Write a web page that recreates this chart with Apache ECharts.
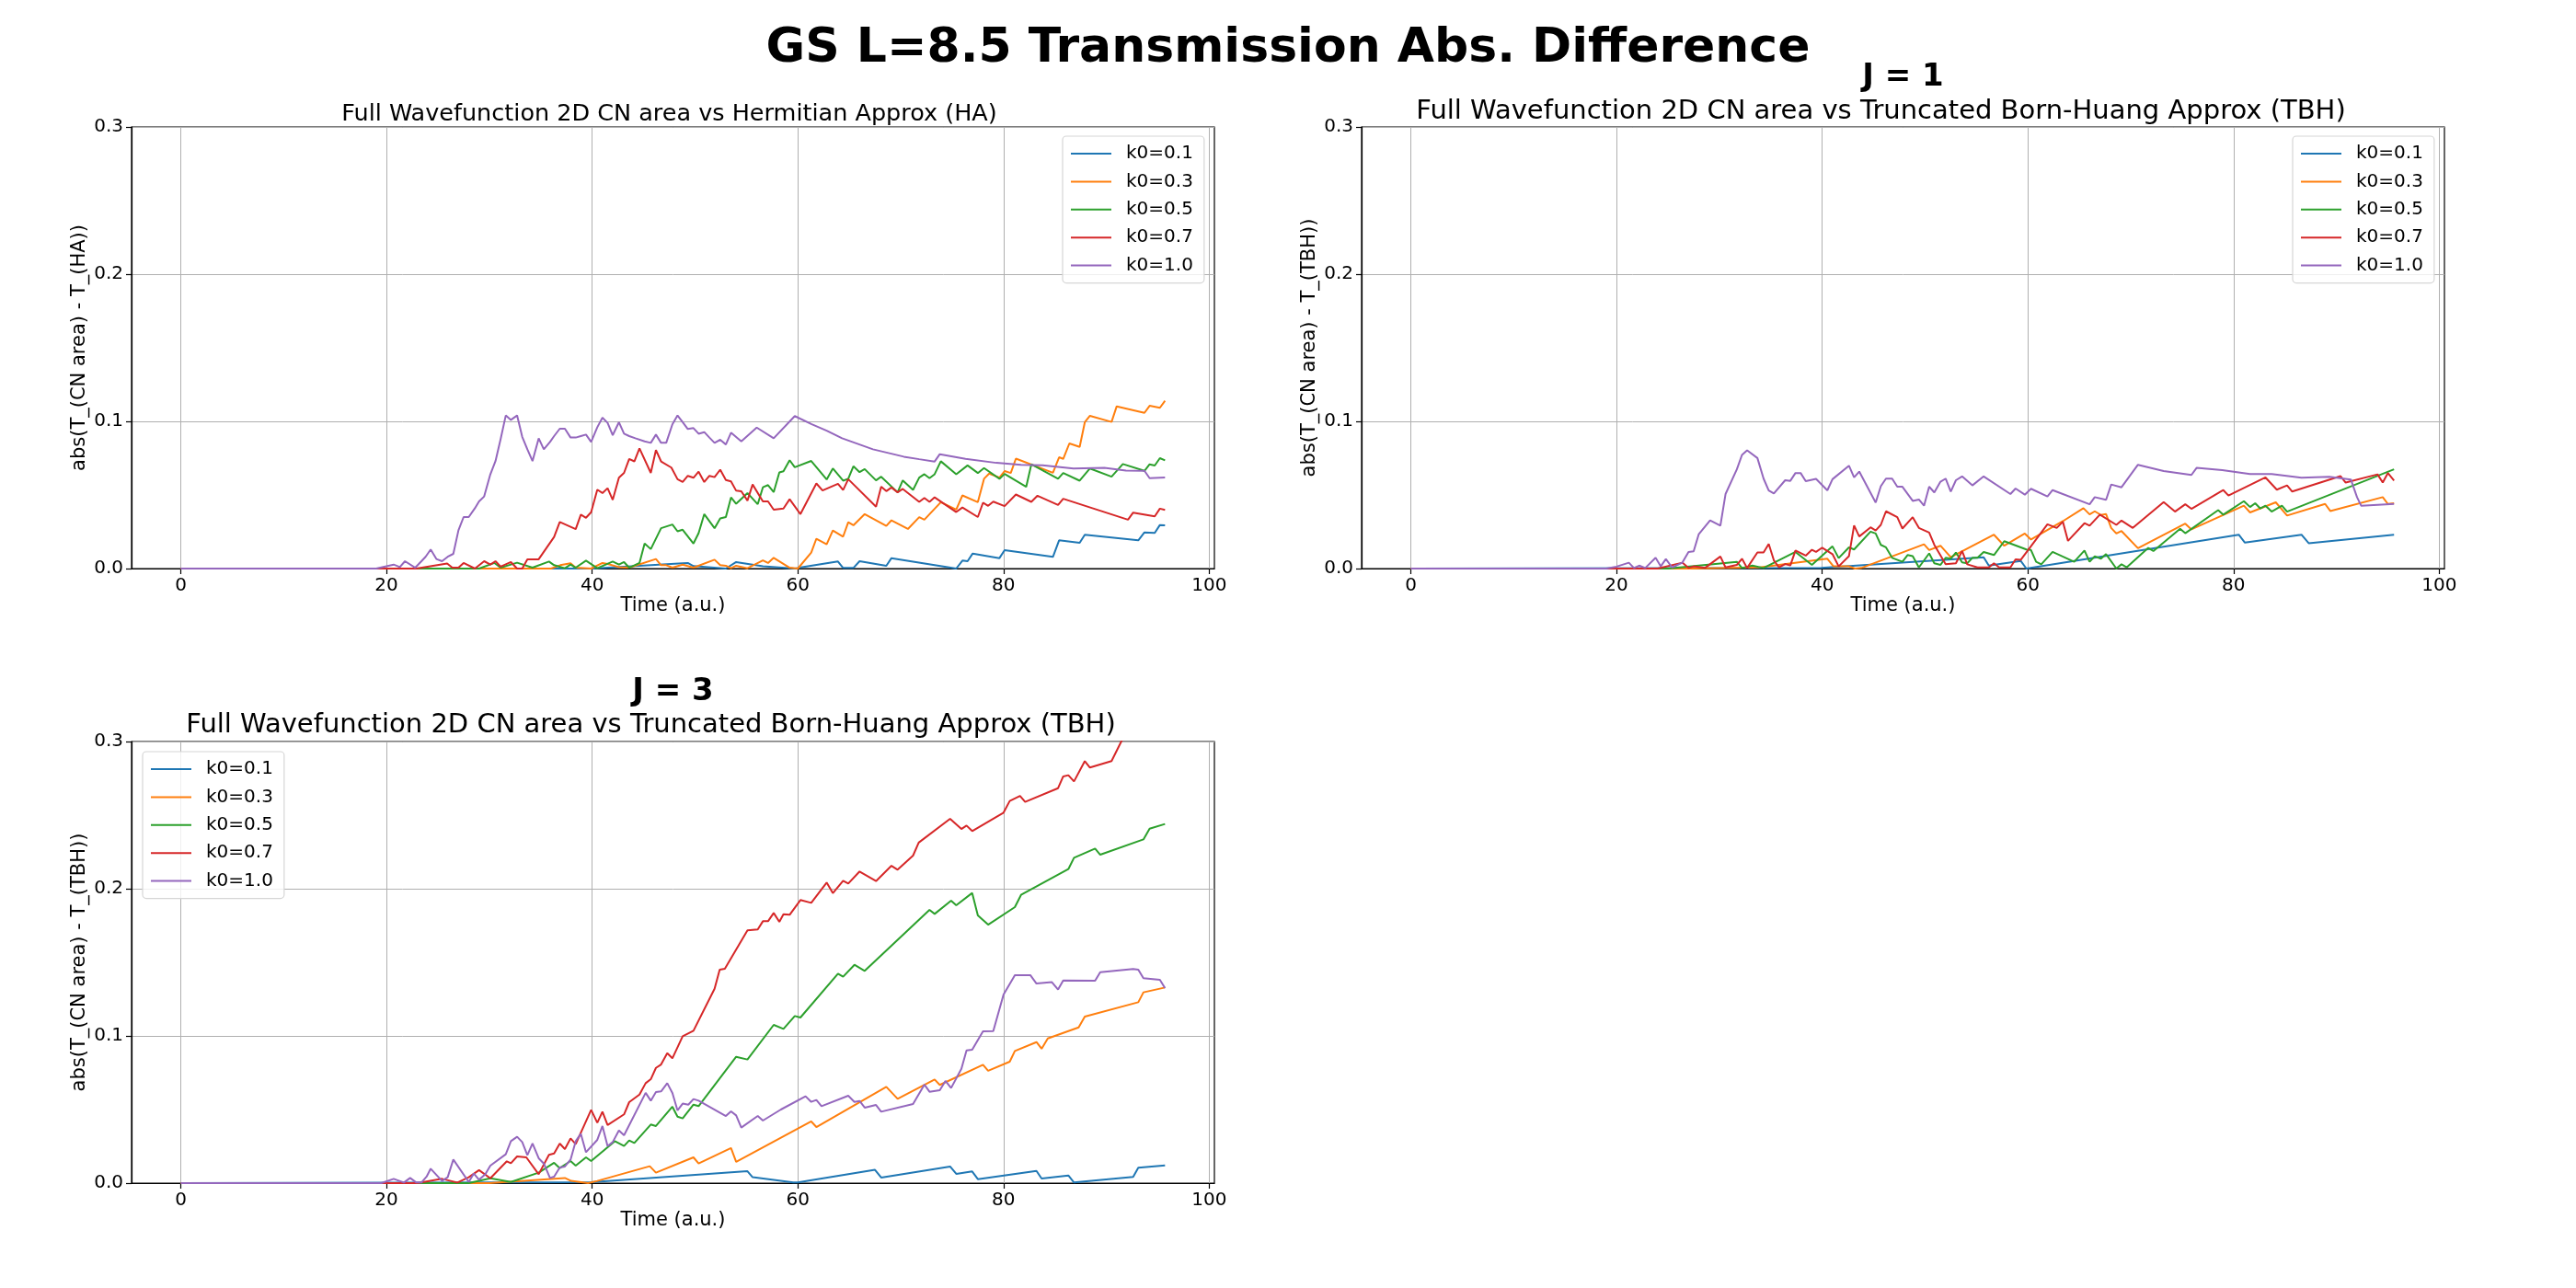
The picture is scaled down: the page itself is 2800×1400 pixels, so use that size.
<!DOCTYPE html>
<html>
<head>
<meta charset="utf-8">
<title>GS L=8.5 Transmission Abs. Difference</title>
<script src="https://cdn.jsdelivr.net/npm/echarts@6/dist/echarts.min.js"></script>
<style>
  html, body { margin: 0; padding: 0; background: #ffffff; }
  #chart { width: 2800px; height: 1400px; }
</style>
</head>
<body>
<div id="chart"></div>
<script>
/* ===================================================================
   GS L=8.5 transmission differences, three panels (HA, TBH J=1, TBH J=3)
   =================================================================== */

const SUPTITLE = "GS L=8.5 Transmission Abs. Difference";
const PANEL_TITLES = [
  "Full Wavefunction 2D CN area vs Hermitian Approx (HA)",
  "Full Wavefunction 2D CN area vs Truncated Born-Huang Approx (TBH)",
  "Full Wavefunction 2D CN area vs Truncated Born-Huang Approx (TBH)"
];
const PANEL_TAGS = ["", "J = 1", "J = 3"];
const Y_NAMES = [
  "abs(T_(CN area) - T_(HA))",
  "abs(T_(CN area) - T_(TBH))",
  "abs(T_(CN area) - T_(TBH))"
];
const X_NAME = "Time (a.u.)";
const K0_LABELS = ["k0=0.1", "k0=0.3", "k0=0.5", "k0=0.7", "k0=1.0"];
const X_TICKS = [0, 20, 40, 60, 80, 100];

// ---- Hermitian approx panel: [time, abs diff] ----
const ha_k01 = [[0,0],[40,0],[48.8,0.0036],[49.3,0.0038],[49.85,0.0017],[53,0],[54,0.0044],[56.6,0.0015],[59.7,0],[60,0.0004],[63.9,0.0048],[64.4,0.0004],[65.4,0.0004],[66,0.005],[68.6,0.0019],[69.1,0.0071],[75.4,0],[76,0.0054],[76.5,0.005],[77,0.0102],[79.6,0.0071],[80.1,0.0125],[84.8,0.0079],[85.4,0.0192],[87.4,0.0175],[87.9,0.023],[93.1,0.0192],[93.7,0.0246],[94.7,0.0242],[95.2,0.0296],[95.7,0.0294]];
const ha_k03 = [[0,0],[36,0],[36.9,0.0023],[37.9,0.0036],[38.4,0.0006],[39.9,0],[41,0.0038],[41.5,0.0031],[42.6,0.001],[43.6,0.0006],[46.2,0.0065],[46.7,0.0023],[47.2,0.0023],[47.8,0.0006],[48.8,0.0027],[49.85,0.0006],[51.9,0.006],[52.45,0.0023],[53,0.0019],[53.5,0.0002],[54,0.0019],[55.1,0.0002],[56.6,0.0056],[57.1,0.0038],[57.65,0.0073],[59.2,0.0006],[60,0],[61.3,0.0109],[61.8,0.0203],[62.8,0.0165],[63.4,0.0259],[64.4,0.0217],[64.9,0.0315],[65.4,0.0294],[66.5,0.037],[68.6,0.029],[69.1,0.0328],[70.7,0.0269],[71.8,0.0349],[72.3,0.0332],[73.9,0.0451],[75.4,0.0401],[76,0.0497],[77.5,0.0451],[78.1,0.061],[78.6,0.0645],[79.6,0.0618],[80.1,0.0662],[80.7,0.0649],[81.2,0.0747],[84.8,0.0651],[85.4,0.0756],[85.8,0.0745],[86.4,0.085],[87.4,0.0827],[87.9,0.0994],[88.4,0.1038],[90.5,0.0996],[91,0.1102],[93.7,0.1058],[94.2,0.1106],[95.2,0.1092],[95.7,0.114]];
const ha_k05 = [[0,0],[29,0],[30.5,0.0038],[31.1,0.0006],[32.7,0.004],[34.2,0.0006],[35.8,0.0048],[36.3,0.0023],[37.35,0.0002],[37.9,0.0027],[38.4,0.0006],[39.4,0.0054],[40.5,0.0002],[42,0.0048],[42.6,0.0027],[43.1,0.0044],[43.6,0.0006],[44.6,0.0038],[45.1,0.017],[45.7,0.0132],[46.7,0.0274],[47.8,0.0299],[48.3,0.0253],[48.8,0.0264],[49.85,0.017],[50.35,0.0241],[50.9,0.037],[51.9,0.0274],[52.45,0.0341],[53,0.035],[53.5,0.0483],[54,0.044],[55.1,0.0513],[56.1,0.0437],[56.6,0.0552],[57.1,0.0567],[57.65,0.0519],[58.2,0.0653],[58.6,0.0661],[59.2,0.0736],[59.7,0.0688],[61.3,0.0731],[62.8,0.0605],[63.4,0.068],[64.4,0.0597],[64.9,0.061],[65.4,0.0695],[66,0.0655],[66.5,0.0676],[67.6,0.0599],[68.1,0.0624],[69.7,0.0518],[70.2,0.0599],[71.2,0.0534],[71.8,0.0618],[72.3,0.0641],[72.8,0.0614],[73.3,0.0641],[73.9,0.0729],[75.4,0.0641],[76.5,0.0701],[77.5,0.0649],[78.1,0.0683],[79.6,0.061],[80.1,0.0643],[82.2,0.0555],[82.7,0.0708],[85.3,0.061],[85.8,0.0649],[87.4,0.0597],[88.4,0.068],[90.5,0.0624],[91.6,0.071],[93.7,0.0664],[94.2,0.0708],[94.7,0.07],[95.2,0.075],[95.7,0.0735]];
const ha_k07 = [[0,0],[22.9,0],[25.9,0.0035],[26.4,0.0006],[27,0.0006],[27.5,0.0038],[28.6,0],[29.5,0.005],[30.1,0.0027],[30.6,0.005],[31.1,0.0013],[32.1,0.0044],[32.7,0],[33.2,0],[33.7,0.0063],[34.8,0.0063],[36.3,0.0215],[36.85,0.0316],[38.4,0.0268],[38.9,0.0366],[39.4,0.0345],[39.9,0.0383],[40.5,0.0536],[41,0.0513],[41.5,0.0546],[42,0.0467],[42.6,0.0617],[43.1,0.065],[43.6,0.0745],[44.1,0.0728],[44.6,0.0816],[45.7,0.065],[46.2,0.0805],[46.7,0.0728],[47.7,0.0686],[48.3,0.0607],[48.8,0.0588],[49.3,0.063],[49.85,0.0617],[50.35,0.0658],[50.9,0.0588],[51.4,0.063],[51.9,0.0621],[52.45,0.0672],[53,0.0602],[53.5,0.0592],[54,0.0529],[54.5,0.0525],[55.1,0.0462],[55.6,0.0571],[56.6,0.0456],[57.1,0.0456],[57.65,0.04],[58.6,0.0408],[59.2,0.0471],[60.25,0.037],[61.8,0.0578],[62.4,0.053],[63.9,0.0576],[64.4,0.0534],[64.9,0.0607],[67.6,0.042],[68.1,0.0557],[68.6,0.0526],[69.1,0.0551],[69.7,0.0518],[70.2,0.0541],[71.8,0.0453],[72.3,0.048],[72.8,0.0453],[73.3,0.0484],[75.4,0.0384],[76,0.0415],[77.5,0.035],[78,0.0447],[78.5,0.0426],[79,0.0455],[80.1,0.0424],[81.2,0.0503],[82.7,0.0453],[83.3,0.0495],[85.3,0.0432],[85.8,0.0474],[92.1,0.0332],[92.6,0.038],[94.7,0.0355],[95.2,0.0407],[95.7,0.0399]];
const ha_k10 = [[0,0],[19,0],[20.7,0.0027],[21.3,0.001],[21.8,0.005],[22.8,0.0006],[23.4,0.005],[23.8,0.008],[24.3,0.013],[24.85,0.0065],[25.4,0.005],[25.95,0.008],[26.5,0.01],[27,0.026],[27.5,0.035],[28,0.035],[28.6,0.041],[29,0.0456],[29.5,0.049],[30.1,0.064],[30.6,0.073],[31.1,0.088],[31.6,0.104],[32.1,0.101],[32.7,0.104],[33.2,0.0895],[33.7,0.081],[34.2,0.073],[34.8,0.0885],[35.3,0.081],[35.9,0.086],[36.3,0.09],[36.85,0.095],[37.35,0.095],[37.9,0.089],[38.4,0.089],[38.9,0.09],[39.4,0.091],[39.9,0.086],[40.5,0.096],[41,0.1025],[41.5,0.099],[42,0.0906],[42.6,0.0994],[43.1,0.0916],[43.6,0.09],[44.2,0.0885],[45.1,0.0864],[45.7,0.0854],[46.2,0.091],[46.7,0.0854],[47.2,0.0854],[47.8,0.098],[48.3,0.104],[48.8,0.0994],[49.3,0.0948],[49.85,0.0954],[50.35,0.0916],[50.9,0.0927],[51.4,0.089],[51.9,0.0854],[52.45,0.0875],[53,0.0843],[53.5,0.0923],[54.5,0.0864],[56,0.0958],[57.65,0.0885],[59.7,0.1036],[61.35,0.098],[62.8,0.0937],[64.3,0.0885],[65.8,0.0848],[67.3,0.081],[68.8,0.0785],[70.3,0.076],[71.8,0.0743],[73.3,0.0727],[73.8,0.0777],[76.3,0.0745],[79.3,0.0718],[81.7,0.0704],[83.8,0.0701],[86.8,0.068],[89.8,0.0685],[91.9,0.0666],[93.7,0.0664],[94.2,0.0614],[95.7,0.0618]];

// ---- Truncated Born-Huang, J = 1 ----
const j1_k01 = [[0,0],[39.9,0.0004],[55.7,0.0077],[56.2,0.002],[59.3,0.0052],[59.85,0],[80.5,0.023],[81.1,0.0176],[86.6,0.023],[87.3,0.0172],[95.6,0.023]];
const j1_k03 = [[0,0],[27,0],[33.9,0.0008],[40.5,0.0067],[41.1,0.0015],[42.6,0.0015],[43.2,0],[43.8,0.0004],[49.9,0.0165],[50.4,0.0126],[51.5,0.0155],[52.5,0.0077],[56.7,0.023],[57.7,0.0155],[59.7,0.0238],[60.3,0.0197],[63.4,0.0322],[65.4,0.041],[66,0.0368],[66.5,0.0389],[67.1,0.0364],[67.6,0.037],[68.1,0.0276],[68.6,0.0238],[69.1,0.0255],[70.7,0.0138],[75.3,0.0305],[75.9,0.0266],[81,0.0427],[81.6,0.0381],[84.1,0.045],[85.2,0.036],[88.9,0.0439],[89.4,0.0391],[94.5,0.0485],[95,0.0439],[95.6,0.0444]];
const j1_k05 = [[0,0],[25,0],[31.7,0.0046],[32.2,0.0004],[33.2,0.002],[34.3,0.0004],[37.4,0.0113],[39,0.0025],[41,0.0151],[41.6,0.0071],[42.6,0.0144],[43.1,0.013],[44.7,0.0251],[45.2,0.0238],[45.7,0.0161],[46.2,0.0144],[46.8,0.0073],[47.8,0.0046],[48.3,0.0092],[48.8,0.0084],[49.4,0.0008],[50.4,0.0103],[50.9,0.0036],[51.5,0.0025],[52,0.0073],[52.5,0.0067],[53,0.0109],[53.6,0.0042],[54.1,0.0036],[54.6,0.0073],[55.1,0.0073],[55.7,0.0113],[56.7,0.0092],[57.7,0.0186],[59.85,0.013],[60.3,0.0126],[60.8,0.0046],[61.3,0.0029],[62.4,0.0113],[64.5,0.0046],[65.5,0.0123],[66,0.0046],[66.5,0.0084],[67.1,0.0067],[67.6,0.0098],[68.6,0],[69.1,0.0029],[69.6,0.0008],[71.7,0.014],[72.2,0.0119],[74.8,0.027],[75.3,0.024],[78.5,0.0397],[79,0.0366],[81,0.0458],[81.6,0.0418],[82.1,0.0444],[82.6,0.0408],[83.1,0.0427],[83.7,0.0387],[84.7,0.0427],[85.2,0.0387],[95.6,0.0674]];
const j1_k07 = [[0,0],[24,0],[26.4,0.004],[27,0.0004],[27.5,0.0015],[28.6,0.0004],[30.1,0.0082],[30.6,0.0008],[31.7,0.0025],[32.2,0.0067],[32.7,0.0004],[33.7,0.0109],[34.3,0.0109],[34.8,0.0167],[35.3,0.0056],[35.8,0.0008],[36.4,0.0031],[36.9,0.0021],[37.4,0.0123],[38.4,0.0088],[39,0.0128],[39.4,0.0113],[40,0.0142],[41,0.0098],[41.6,0.0015],[42.6,0.0084],[43.1,0.0293],[43.6,0.0218],[44.7,0.028],[45.2,0.0259],[45.7,0.0297],[46.2,0.0389],[47.3,0.0349],[47.8,0.0272],[48.8,0.0349],[49.4,0.0276],[50.4,0.0245],[50.9,0.0161],[52,0.0029],[53,0.0036],[53.6,0.0119],[54.1,0.0029],[55.1,0.0008],[56.2,0.0008],[56.7,0.0036],[57.2,0.0008],[58.3,0.0008],[58.8,0.0063],[59.3,0.0059],[61.9,0.0301],[62.8,0.0276],[63.4,0.0318],[63.9,0.0188],[65.5,0.0308],[66,0.0291],[67,0.0366],[68.6,0.0297],[69.1,0.0326],[70.2,0.0276],[73.2,0.0452],[74.3,0.0387],[75.3,0.0437],[75.9,0.0406],[79,0.0533],[79.5,0.0496],[83.1,0.0619],[84.2,0.0536],[85.2,0.0565],[85.7,0.0523],[90.4,0.0628],[90.9,0.0584],[94,0.064],[94.5,0.0584],[95,0.0649],[95.6,0.0598]];
const j1_k10 = [[0,0],[19,0],[20,0.0013],[21.2,0.004],[21.7,0.0004],[22.2,0.002],[22.8,0.0004],[23.8,0.0073],[24.3,0.0015],[24.8,0.0065],[25.4,0.0008],[26.4,0.004],[27,0.0113],[27.5,0.0117],[28,0.0234],[29.1,0.0328],[30.1,0.0291],[30.6,0.0506],[31.7,0.0674],[32.2,0.0772],[32.7,0.0803],[33.7,0.0751],[34.3,0.0611],[34.8,0.0531],[35.3,0.051],[36.4,0.06],[36.9,0.0596],[37.4,0.0649],[37.9,0.0649],[38.4,0.0594],[39.4,0.0609],[40.5,0.0531],[41,0.0607],[42.6,0.0699],[43.1,0.0619],[43.6,0.0659],[45.2,0.0448],[45.7,0.0559],[46.2,0.0611],[46.8,0.0611],[47.3,0.0556],[47.8,0.0556],[48.8,0.046],[49.4,0.0469],[49.9,0.0427],[50.4,0.0556],[50.9,0.0517],[51.5,0.059],[52,0.0611],[52.5,0.0523],[53,0.06],[53.6,0.0626],[54.6,0.0565],[55.7,0.0626],[58.3,0.0506],[58.8,0.0544],[59.7,0.0502],[60.3,0.0542],[61.9,0.049],[62.4,0.0533],[66,0.0437],[66.5,0.0485],[67.6,0.0467],[68.1,0.0571],[69.1,0.0552],[70.7,0.0705],[73.2,0.0663],[75.9,0.0636],[76.4,0.0684],[78.9,0.0669],[81.6,0.0642],[83.7,0.0642],[86.6,0.0617],[89.3,0.0623],[91.4,0.0605],[92,0.0485],[92.4,0.0427],[95.6,0.0439]];

// ---- Truncated Born-Huang, J = 3 ----
const j3_k01 = [[0,0],[39.9,0.0006],[55.1,0.0081],[55.6,0.004],[59.55,0.0004],[60,0.0004],[67.5,0.009],[68.1,0.0038],[74.8,0.0113],[75.4,0.0063],[76.95,0.0079],[77.5,0.0027],[83.2,0.0083],[83.7,0.0031],[86.3,0.0052],[86.85,0.0004],[92.6,0.0042],[93.1,0.0104],[95.7,0.0121]];
const j3_k03 = [[0,0],[30,0],[37.35,0.0035],[37.95,0.0015],[39.6,0],[40.5,0.0015],[45.6,0.0115],[46.2,0.0071],[49.85,0.0175],[50.35,0.0133],[53.5,0.0238],[54,0.0144],[61.3,0.0419],[61.8,0.0381],[68.6,0.0654],[69.7,0.0573],[73.3,0.0704],[73.8,0.0667],[78,0.0804],[78.5,0.0763],[80.6,0.0825],[81.1,0.0898],[83.2,0.0958],[83.7,0.0913],[84.3,0.0983],[87.3,0.1058],[87.9,0.1131],[93.1,0.1229],[93.6,0.1296],[95.7,0.1329]];
const j3_k05 = [[0,0],[28,0],[30.1,0.0033],[32.1,0.0008],[34.8,0.0071],[36.3,0.0138],[36.85,0.0102],[37.9,0.015],[38.4,0.0119],[39.4,0.0175],[39.9,0.015],[42.2,0.0285],[43.1,0.0252],[43.6,0.029],[44.1,0.0273],[45.7,0.0398],[46.2,0.0388],[47.8,0.0519],[48.3,0.0452],[48.8,0.044],[49.85,0.0533],[50.35,0.0523],[54,0.0858],[55.1,0.084],[57.65,0.1075],[58.6,0.1048],[59.7,0.1135],[60.25,0.1125],[63.9,0.1423],[64.4,0.1402],[65.5,0.1483],[66.5,0.1442],[72.8,0.1856],[73.3,0.1829],[74.9,0.1919],[75.4,0.1888],[76.95,0.1971],[77.5,0.1819],[78.5,0.1756],[81.1,0.1875],[81.7,0.1958],[86.3,0.2133],[86.85,0.221],[88.9,0.2273],[89.4,0.2231],[93.6,0.2335],[94.2,0.2408],[95.7,0.244]];
const j3_k07 = [[0,0],[23,0],[25.4,0.0029],[26.9,0.0004],[28,0.004],[29,0.0088],[30.1,0.0033],[31.7,0.0148],[32.1,0.0135],[32.7,0.0181],[33.6,0.0175],[34.8,0.006],[35.8,0.0192],[36.3,0.0202],[36.85,0.0269],[37.35,0.0231],[37.9,0.0304],[38.4,0.0265],[39.9,0.0498],[40.5,0.041],[41,0.0485],[41.5,0.0394],[43.1,0.0467],[43.6,0.055],[44.6,0.0602],[45.2,0.0679],[45.7,0.0706],[46.2,0.0783],[46.7,0.0806],[47.3,0.0883],[47.8,0.0848],[48.8,0.0998],[49.85,0.1035],[51.9,0.132],[52.4,0.145],[52.9,0.1456],[55.1,0.1717],[56.1,0.1723],[56.6,0.1779],[57.1,0.1779],[57.65,0.1835],[58.2,0.1775],[58.6,0.1827],[59.2,0.1823],[60.25,0.1923],[61.3,0.1904],[62.8,0.2042],[63.4,0.197],[64.4,0.2054],[64.9,0.2035],[66,0.2117],[67.6,0.2052],[69.1,0.2156],[69.7,0.2129],[71.2,0.2225],[71.75,0.2313],[74.8,0.2475],[75.9,0.2406],[76.4,0.2429],[76.95,0.2392],[80,0.2517],[80.6,0.2596],[81.6,0.2631],[82.1,0.259],[85.3,0.2683],[85.8,0.2763],[86.3,0.2771],[86.85,0.2729],[87.9,0.2867],[88.4,0.2823],[90.5,0.2867],[91.5,0.3008],[93,0.31],[95.7,0.318]];
const j3_k10 = [[0,0],[19.5,0],[20.7,0.0029],[21.7,0.0004],[22.3,0.0035],[22.9,0.0004],[23.4,0.0004],[23.9,0.0044],[24.3,0.0098],[25.4,0.0015],[25.95,0.004],[26.5,0.016],[28,0.0008],[28.5,0.0065],[29,0.0023],[29.6,0.006],[30.1,0.0119],[31.6,0.0196],[32.1,0.0285],[32.7,0.0315],[33.2,0.0279],[33.7,0.019],[34.2,0.0269],[34.8,0.0169],[35.3,0.0133],[35.9,0.0035],[36.3,0.0044],[36.85,0.0106],[37.35,0.0113],[37.9,0.016],[38.4,0.0285],[38.9,0.0335],[39.4,0.021],[40.5,0.0294],[41,0.0388],[41.5,0.0252],[42,0.0279],[42.6,0.0358],[43.1,0.0325],[45.2,0.0613],[45.7,0.056],[46.2,0.0619],[46.7,0.0623],[47.3,0.0679],[47.8,0.0613],[48.3,0.0494],[48.8,0.054],[49.35,0.0533],[49.85,0.0571],[50.35,0.056],[53,0.0456],[53.5,0.0488],[54,0.046],[54.5,0.0377],[56.1,0.0456],[56.6,0.0425],[58.35,0.05],[60.75,0.059],[61.3,0.0552],[61.8,0.0565],[62.3,0.0523],[64.9,0.0594],[65.5,0.0552],[66,0.0558],[66.5,0.0513],[67.6,0.0531],[68.1,0.0485],[71.2,0.0538],[72.3,0.0669],[72.8,0.0621],[73.8,0.0631],[74.35,0.0694],[74.9,0.0646],[75.9,0.0777],[76.4,0.0902],[76.95,0.0906],[78,0.1031],[79,0.1033],[80,0.1281],[81.1,0.1413],[82.6,0.1413],[83.2,0.1356],[84.7,0.1365],[85.3,0.1315],[85.8,0.1377],[88.9,0.1375],[89.4,0.1433],[92.6,0.1454],[93.1,0.145],[93.6,0.1392],[95.2,0.1381],[95.7,0.1325]];

const PANEL_DATA = [
  [ha_k01, ha_k03, ha_k05, ha_k07, ha_k10],
  [j1_k01, j1_k03, j1_k05, j1_k07, j1_k10],
  [j3_k01, j3_k03, j3_k05, j3_k07, j3_k10]
];

// matplotlib tab10
const COLORS = ["#1f77b4", "#ff7f0e", "#2ca02c", "#d62728", "#9467bd"];
const FONT = "DejaVu Sans";

// panel boxes in px: [left, top, width, height]
const BOXES = [
  [143, 138, 1177, 480],
  [1480, 138, 1177, 480],
  [143, 806, 1177, 480]
];
const LEGEND_POS = [[1155, 148], [2492, 148], [155, 817]];
// subplot heading font sizes, offsets above the box, horizontal shift
const HEAD_SIZE = [25.5, 29, 29];
const HEAD_OFF = [27, 31, 32];
const HEAD_SHIFT = [-4, -24, -24];
const X_MIN = -4.785, X_MAX = 100.5;

const chart = echarts.init(document.getElementById('chart'), null, { renderer: 'canvas' });

const grids = [], xAxes = [], yAxes = [], series = [], legends = [];
const titles = [{
  text: SUPTITLE, left: 1400, top: 27, textAlign: 'center', padding: 0,
  textStyle: { fontFamily: FONT, fontSize: 52, fontWeight: 'bold', color: '#000' }
}];

BOXES.forEach((b, i) => {
  const cx = b[0] + b[2] / 2;
  grids.push({
    left: b[0], top: b[1], width: b[2], height: b[3],
    show: true, borderColor: '#000', borderWidth: 1.2, backgroundColor: '#fff',
    containLabel: false
  });

  xAxes.push({
    gridIndex: i, type: 'value', min: X_MIN, max: X_MAX,
    name: X_NAME, nameLocation: 'middle', nameGap: 28,
    nameTextStyle: { fontFamily: FONT, fontSize: 21, color: '#000' },
    axisLine: { show: true, onZero: false, lineStyle: { color: '#000', width: 1.2 } },
    axisTick: { show: true, inside: false, length: 6, customValues: X_TICKS, lineStyle: { color: '#000', width: 1.2 } },
    axisLabel: { customValues: X_TICKS, margin: 9, fontFamily: FONT, fontSize: 20, color: '#000' },
    splitLine: { show: true, lineStyle: { color: '#b0b0b0', width: 1 } }
  });

  yAxes.push({
    gridIndex: i, type: 'value', min: 0, max: 0.3, interval: 0.1,
    name: Y_NAMES[i], nameLocation: 'middle', nameGap: 46, nameRotate: 90,
    nameTextStyle: { fontFamily: FONT, fontSize: 21, color: '#000' },
    axisLine: { show: true, onZero: false, lineStyle: { color: '#000', width: 1.2 } },
    axisTick: { show: true, inside: false, length: 6, lineStyle: { color: '#000', width: 1.2 } },
    axisLabel: { margin: 9, fontFamily: FONT, fontSize: 20, color: '#000',
                 formatter: v => v.toFixed(1) },
    splitLine: { show: true, lineStyle: { color: '#b0b0b0', width: 1 } }
  });

  // subplot headings
  if (PANEL_TAGS[i]) {
    titles.push({
      text: PANEL_TAGS[i], left: cx, top: b[1] - 71, textAlign: 'center', padding: 0,
      textStyle: { fontFamily: FONT, fontSize: 34, fontWeight: 'bold', color: '#000' }
    });
  }
  titles.push({
    text: PANEL_TITLES[i], left: cx + HEAD_SHIFT[i], top: b[1] - HEAD_OFF[i], textAlign: 'center', padding: 0,
    textStyle: { fontFamily: FONT, fontSize: HEAD_SIZE[i], fontWeight: 'normal', color: '#000' }
  });

  PANEL_DATA[i].forEach((d, j) => {
    series.push({
      name: K0_LABELS[j], type: 'line', xAxisIndex: i, yAxisIndex: i,
      data: d, symbol: 'none', showSymbol: false, clip: true,
      color: COLORS[j],
      lineStyle: { color: COLORS[j], width: 2 },
      z: 3 + j
    });
  });

  legends.push({
    orient: 'vertical', left: LEGEND_POS[i][0], top: LEGEND_POS[i][1],
    data: K0_LABELS, icon: 'rect',
    padding: [9, 12, 9, 9], itemGap: 10.4, itemWidth: 44, itemHeight: 2,
    backgroundColor: 'rgba(255,255,255,0.8)', borderColor: '#d6d6d6', borderWidth: 1.2, borderRadius: 4,
    textStyle: { fontFamily: FONT, fontSize: 20, color: '#000', lineHeight: 20, padding: [0, 0, 0, 11] },
    selectedMode: false
  });
});

chart.setOption({
  animation: false,
  backgroundColor: '#ffffff',
  textStyle: { fontFamily: FONT },
  title: titles,
  legend: legends,
  grid: grids,
  xAxis: xAxes,
  yAxis: yAxes,
  series: series
});

window.addEventListener('resize', () => chart.resize());
</script>
</body>
</html>
